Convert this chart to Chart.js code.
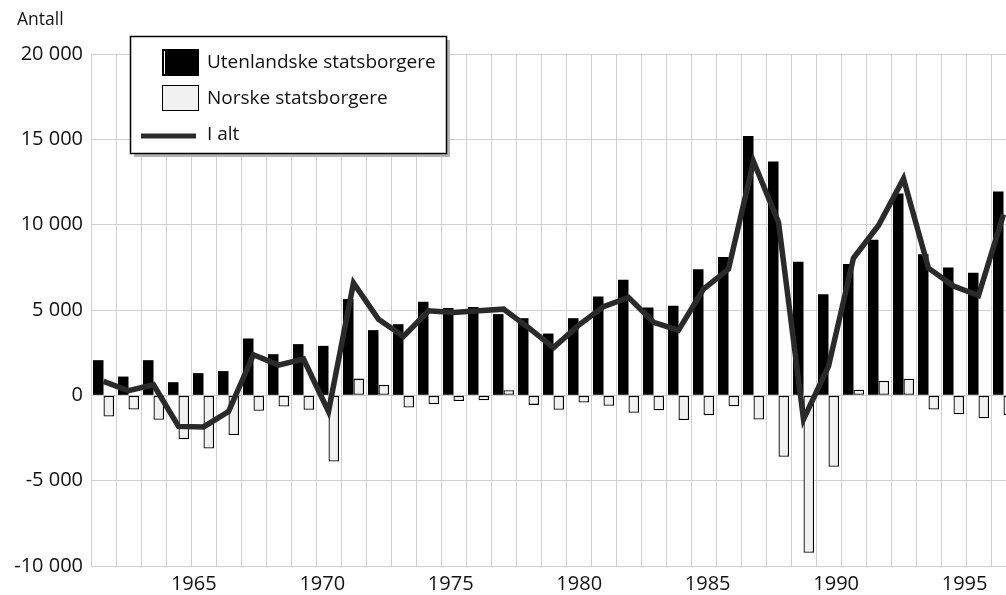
<!DOCTYPE html>
<html><head><meta charset="utf-8">
<script src="https://cdn.jsdelivr.net/npm/chart.js@4.4.1/dist/chart.umd.min.js"></script>
<style>
html,body{margin:0;padding:0;background:#fff;overflow:hidden;}
#wrap{position:relative;width:1006px;height:595px;overflow:hidden;background:#fff;}
#c{position:absolute;left:0;top:0;}
</style></head><body>
<div id="wrap"><canvas id="c" width="1016" height="595"></canvas></div>
<script>
const years = [1961,1962,1963,1964,1965,1966,1967,1968,1969,1970,1971,1972,1973,1974,1975,1976,1977,1978,1979,1980,1981,1982,1983,1984,1985,1986,1987,1988,1989,1990,1991,1992,1993,1994,1995,1996,1997];
const foreignCitizens = [2060,1100,2060,770,1300,1420,3330,2410,3000,2900,5640,3820,4170,5480,5110,5180,4760,4520,3620,4520,5790,6770,5150,5250,7390,8110,15200,13700,7820,5930,7690,9110,11820,8260,7490,7180,11940];
const norwegianCitizens = [-1240,-830,-1430,-2570,-3120,-2330,-910,-650,-850,-3880,980,615,-710,-520,-330,-290,300,-560,-850,-420,-610,-1020,-870,-1450,-1160,-640,-1420,-3600,-9230,-4190,330,850,970,-830,-1110,-1340,-1150];
const totalNet = [820,270,620,-1820,-1850,-950,2380,1770,2130,-950,6580,4450,3450,4950,4850,4950,5050,3970,2800,4100,5200,5740,4280,3820,6220,7400,13700,10150,-1400,1700,8050,9950,12700,7450,6400,5850,10600];
const seriesNames = ['Utenlandske statsborgere','Norske statsborgere','I alt'];
const yAxisTitle = 'Antall';
const yMin = -10000, yMax = 20000, yStep = 5000;
const yearTickStep = 5;

const FONT = 'Open Sans';
const fmt = v => {
  const s = Math.abs(v).toString();
  const t = s.length > 3 ? s.slice(0, s.length-3) + ' ' + s.slice(-3) : s;
  return (v < 0 ? '-' : '') + t;
};

const boxLegend = {
  id: 'boxLegend',
  afterDraw(chart) {
    const ctx = chart.ctx;
    ctx.save();
    ctx.fillStyle = '#111';
    ctx.font = '17.5px "' + FONT + '"';
    ctx.textAlign = 'left';
    ctx.textBaseline = 'middle';
    ctx.fillText(yAxisTitle, 17, 20);
    const L = 130, T = 36, W = 316, H = 117;
    ctx.fillStyle = '#b4b4b4';
    ctx.fillRect(L + 4, T + 4, W, H);
    ctx.fillStyle = '#fff';
    ctx.fillRect(L, T, W, H);
    ctx.strokeStyle = '#000';
    ctx.lineWidth = 1.5;
    ctx.strokeRect(L + 0.5, T + 0.5, W, H);
    const ds = chart.data.datasets;
    ctx.font = '19px "' + FONT + '"';
    ctx.fillStyle = ds[0].backgroundColor;
    ctx.fillRect(162, 49, 37, 27);
    ctx.fillStyle = '#fff';
    ctx.fillRect(164, 51, 1, 23);
    ctx.fillStyle = ds[1].backgroundColor;
    ctx.fillRect(162, 85, 37, 26);
    ctx.strokeStyle = '#000';
    ctx.lineWidth = 1;
    ctx.strokeRect(162.5, 85.5, 36, 25);
    ctx.strokeStyle = ds[2].borderColor;
    ctx.lineWidth = 5;
    ctx.beginPath();
    ctx.moveTo(141, 136);
    ctx.lineTo(196, 136);
    ctx.stroke();
    ctx.fillStyle = '#111';
    ctx.fillText(ds[0].label, 207, 63);
    ctx.fillText(ds[1].label, 207, 99);
    ctx.fillText(ds[2].label, 207, 135);
    ctx.restore();
  }
};

new Chart(document.getElementById('c'), {
  type: 'bar',
  data: {
    labels: years,
    datasets: [
      { type: 'bar', label: seriesNames[0], data: foreignCitizens, backgroundColor: '#000000', borderWidth: 0, order: 1,
        categoryPercentage: 0.84, barPercentage: 1.0, xAxisID: 'x' },
      { type: 'bar', label: seriesNames[1], data: norwegianCitizens, backgroundColor: '#f1f1f1', borderColor: '#000000', borderWidth: 1.3, borderSkipped: false, order: 1,
        categoryPercentage: 0.84, barPercentage: 1.0, xAxisID: 'x' },
      { type: 'line', label: seriesNames[2], data: totalNet, borderColor: '#2a2a2a', borderWidth: 5.5, pointRadius: 0, tension: 0, order: 0, borderJoinStyle: 'miter', xAxisID: 'x' }
    ]
  },
  options: {
    responsive: false,
    animation: false,
    devicePixelRatio: 1,
    layout: { padding: { top: 54, left: 0, right: 0, bottom: 0 } },
    plugins: { legend: { display: false }, tooltip: { enabled: false } },
    scales: {
      x: {
        afterFit(s) { s.height = 0; },
        ticks: { display: false, autoSkip: false },
        grid: { offset: true, color: '#d0d0d0', lineWidth: 1, drawTicks: false },
        border: { display: false }
      },
      xYears: {
        type: 'linear',
        position: 'bottom',
        offset: false,
        min: years[0], max: years[years.length - 1],
        afterFit(s) { s.height = 29; },
        ticks: { stepSize: yearTickStep, includeBounds: false, autoSkip: false, maxRotation: 0, minRotation: 0, padding: 6, color: '#111',
          font: { family: FONT, size: 20 },
          callback(v) { return v % yearTickStep === 0 ? String(v) : ''; } },
        grid: { display: false, drawTicks: false, offset: false },
        border: { display: false }
      },
      y: {
        min: yMin, max: yMax,
        afterFit(s) { s.width = 91; },
        ticks: { stepSize: yStep, padding: 8, color: '#111', font: { family: FONT, size: 20 }, callback: v => fmt(v) },
        grid: { color: '#d0d0d0', lineWidth: 1, drawTicks: false },
        border: { display: false }
      }
    }
  },
  plugins: [boxLegend]
});
</script>
</body></html>
